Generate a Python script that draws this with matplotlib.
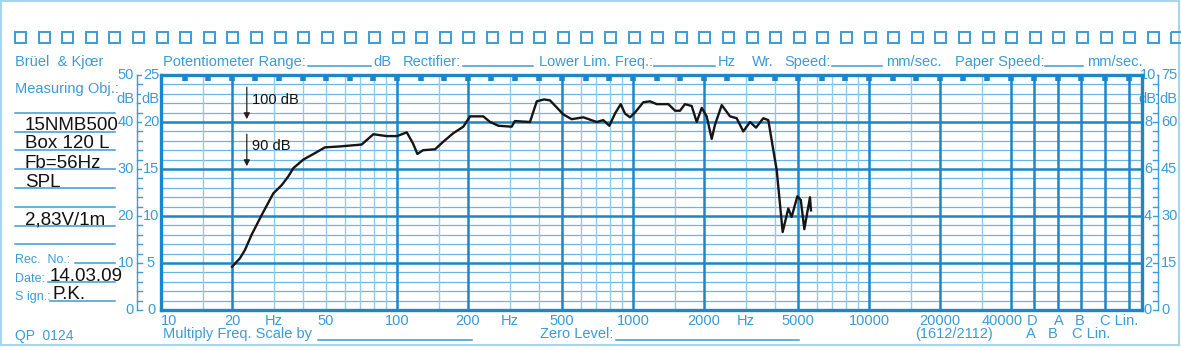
import numpy as np
import matplotlib
matplotlib.use("Agg")
import matplotlib.pyplot as plt
from matplotlib.patches import Rectangle
from matplotlib.transforms import offset_copy

plt.rcParams['font.family'] = ['Liberation Sans', 'DejaVu Sans']

# response curve (Hz / dB on the 0..25 dB scale)
freq = [20, 21.6, 22.7, 24.2, 26.7, 29.9, 32.5, 34.6, 36.4, 40.1, 45, 49.5, 57.3,
        70.8, 79.4, 90.4, 100, 110, 117, 122, 129, 145, 157, 173, 191, 204,
        232, 248, 269, 306, 316, 366, 391, 420, 445, 507, 550, 616, 702, 748, 794,
        839, 887, 925, 971, 1019, 1106, 1180, 1260, 1412, 1507, 1582, 1660,
        1773, 1862, 1955, 2052, 2155, 2225, 2377, 2577, 2750, 2933, 3133, 3320,
        3566, 3744, 3908, 4063, 4307, 4550, 4701, 4970, 5140, 5321, 5623, 5676]
level = [4.6, 5.5, 6.4, 8.0, 10.1, 12.4, 13.3, 14.2, 15.1, 16.0, 16.7, 17.3, 17.4,
         17.6, 18.7, 18.5, 18.5, 18.9, 17.7, 16.6, 17.0, 17.1, 17.9, 18.8, 19.5, 20.6,
         20.6, 20.0, 19.6, 19.5, 20.1, 20.0, 22.2, 22.4, 22.3, 20.8, 20.3, 20.5, 20.0, 20.2, 19.6,
         20.9, 21.9, 20.9, 20.5, 21.0, 22.1, 22.2, 21.9, 21.9, 21.2, 21.2, 21.9,
         21.7, 20.0, 21.5, 20.6, 18.2, 19.7, 21.8, 20.6, 20.4, 19.0, 20.0, 19.4,
         20.4, 20.2, 17.4, 14.9, 8.3, 10.8, 9.9, 12.1, 11.7, 8.6, 12.0, 10.6]

# paper grid
grid_major = [20, 100, 200, 500, 1000, 2000, 5000, 10000, 20000, 40000]
grid_minor = [15, 30, 40, 50, 60, 70, 80, 90, 150, 300, 400, 600, 700, 800, 900,
              1500, 3000, 4000, 6000, 7000, 8000, 9000, 15000, 30000]
label_freqs = [10, 20, 50, 100, 200, 500, 1000, 2000, 5000, 10000, 20000, 40000]
freq_labels = ['10', '20', '50', '100', '200', '500', '1000', '2000', '5000',
               '10000', '20000', '40000']
hz_at = [30, 300, 3000]

left_outer = ['0', '10', '20', '30', '40', '50']
left_inner = ['0', '5', '10', '15', '20', '25']
right_inner = ['0', '2', '4', '6', '8', '10']
right_outer = ['0', '15', '30', '45', '60', '75']

notes = ['15NMB500', 'Box 120 L', 'Fb=56Hz', 'SPL', '2,83V/1m']
date_txt = '14.03.09'
sign_txt = 'P.K.'

TXT = '#3b9bd4'
DARK = '#1b86c9'
MID = '#6db6e3'
LIGHT = '#93cbec'

W, H = 1181, 347
fig = plt.figure(figsize=(W / 100, H / 100), dpi=100)
bg = fig.add_axes([0, 0, 1, 1])
bg.set_xlim(0, W)
bg.set_ylim(H, 0)
bg.axis('off')

# page border and punched holes
bg.add_patch(Rectangle((1, 1), W - 3, H - 3, fill=False, ec='#a8d4ee', lw=1.5))
for k in range(50):
    bg.add_patch(Rectangle((15 + 23.6 * k, 31.5), 11, 11.5, fill=False, ec=TXT, lw=1.4))

# ---- main recording area
x0, x1, y0, y1 = 161, 1142, 75, 310
dec = 236.0
ax = fig.add_axes([x0 / W, 1 - y1 / H, (x1 - x0) / W, (y1 - y0) / H])
ax.set_xscale('log')
ax.set_xlim(10, 10 ** (1 + (x1 - x0) / dec))
ax.set_ylim(0, 25)
ax.patch.set_alpha(0)
ax.set_xticks([])
ax.set_yticks([])
ax.minorticks_off()
for s in ax.spines.values():
    s.set_color(DARK)
    s.set_linewidth(2.4)

for d in range(1, 25):
    if d % 5:
        ax.axhline(d, color=MID, lw=0.9, zorder=1)
    else:
        ax.axhline(d, color=DARK, lw=1.8, zorder=2)
for f in grid_minor:
    ax.axvline(f, color=LIGHT, lw=1.0, zorder=1)
for f in grid_major:
    ax.axvline(f, color=DARK, lw=1.8, zorder=2)
for j in range(5):
    ax.axvline(10 ** (4.7 + 0.1 * j), color=DARK, lw=1.8, zorder=2)
# sprocket marks along the top edge
ax.vlines([10 ** (1 + 0.1 * k) for k in range(1, 42)], 1 - 6 / 235, 1,
          transform=ax.get_xaxis_transform(), color=DARK, lw=4, zorder=3)

ax.plot(freq, level, color='#151515', lw=1.7, solid_joinstyle='round', zorder=5)

# level arrows
for top, bot, lab, ly in [(24.0, 20, '100 dB', 22.3), (19.0, 15, '90 dB', 17.4)]:
    ax.annotate('', xy=(23.1, bot), xytext=(23.1, top),
                arrowprops=dict(arrowstyle='-|>', color='#222', lw=0.9, mutation_scale=9),
                zorder=6)
    ax.text(24.4, ly, lab, fontsize=10.5, color='#111', va='center', ha='left', zorder=6)

# frequency labels
xt = ax.get_xaxis_transform()
lab_y = -(325 - y1) / (y1 - y0)
for f, s in zip(label_freqs, freq_labels):
    tr = offset_copy(xt, fig=fig, x=-9, units='dots') if f == 40000 else xt
    ax.text(f, lab_y, s, transform=tr, ha='left' if f == 10 else 'center',
            va='baseline', color=TXT, fontsize=10.5, clip_on=False)
for f in hz_at:
    ax.text(f, lab_y, 'Hz', transform=xt, ha='center', va='baseline',
            color=TXT, fontsize=10.5, clip_on=False)

def ypx(d):
    return y1 - d * (y1 - y0) / 25

# ---- side rulers
for d in range(26):
    yy = ypx(d)
    bg.plot([137, 142], [yy, yy], color=TXT, lw=1.0)
    bg.plot([1153, 1158], [yy, yy], color=TXT, lw=1.0)
bg.plot([137, 137], [ypx(0), ypx(25)], color=TXT, lw=1.0)
bg.plot([1158, 1158], [ypx(0), ypx(25)], color=TXT, lw=1.0)
for i in range(6):
    yy = ypx(5 * i)
    bg.text(134, yy, left_outer[i], ha='right', va='center', color=TXT, fontsize=10.5)
    bg.text(151, yy, left_inner[i], ha='center', va='center', color=TXT, fontsize=10.5,
            bbox=dict(fc='white', ec='none', pad=0.3))
    bg.text(1148, yy, right_inner[i], ha='center', va='center', color=TXT, fontsize=10.5,
            bbox=dict(fc='white', ec='none', pad=0.3))
    bg.text(1161, yy, right_outer[i], ha='left', va='center', color=TXT, fontsize=10.5,
            bbox=dict(fc='white', ec='none', pad=0.3))
for xx in [125, 150, 1147, 1168]:
    bg.text(xx, 99, 'dB', ha='center', va='center', color=TXT, fontsize=10.5,
            bbox=dict(fc='white', ec='none', pad=0.2))

# ---- header
hdr = 66
def blank(xa, xb, yy):
    bg.plot([xa, xb], [yy, yy], color=TXT, lw=1.1)

bg.text(15, hdr, 'Brüel  & Kjœr', color=TXT, fontsize=10.5, va='baseline')
bg.text(163, hdr, 'Potentiometer Range:', color=TXT, fontsize=10.5, va='baseline')
blank(308, 371, hdr)
bg.text(373, hdr, 'dB', color=TXT, fontsize=10.5, va='baseline')
bg.text(403, hdr, 'Rectifier:', color=TXT, fontsize=10.5, va='baseline')
blank(463, 533, hdr)
bg.text(539, hdr, 'Lower Lim. Freq.:', color=TXT, fontsize=10.5, va='baseline')
blank(654, 715, hdr)
bg.text(718, hdr, 'Hz', color=TXT, fontsize=10.5, va='baseline')
bg.text(752, hdr, 'Wr.', color=TXT, fontsize=10.5, va='baseline')
bg.text(784, hdr, 'Speed:', color=TXT, fontsize=10.5, va='baseline')
blank(832, 882, hdr)
bg.text(886, hdr, 'mm/sec.', color=TXT, fontsize=10.5, va='baseline')
bg.text(955, hdr, 'Paper Speed:', color=TXT, fontsize=10.5, va='baseline')
blank(1045, 1083, hdr)
bg.text(1087, hdr, 'mm/sec.', color=TXT, fontsize=10.5, va='baseline')

# ---- left column
bg.text(15, 93, 'Measuring Obj.:', color=TXT, fontsize=10.5, va='baseline')
for k in range(11):
    yy = 112.7 + 18.8 * k
    xa = {8: 75, 9: 48, 10: 50}.get(k, 15)
    blank(xa, 115, yy)
for s, yb in zip(notes, [130, 148, 168, 187, 224]):
    bg.text(25, yb, s, color='#111', fontsize=13.5, va='baseline')
bg.text(15, 263, 'Rec.  No.:', color=TXT, fontsize=9, va='baseline')
bg.text(15, 282, 'Date:', color=TXT, fontsize=9, va='baseline')
bg.text(15, 300, 'S ign.:', color=TXT, fontsize=9, va='baseline')
bg.text(50, 281, date_txt, color='#111', fontsize=13.5, va='baseline')
bg.text(53, 299, sign_txt, color='#111', fontsize=13.5, va='baseline')
bg.text(15, 340, 'QP  0124', color=TXT, fontsize=10, va='baseline')

# ---- footer
bg.text(163, 338, 'Multiply Freq. Scale by', color=TXT, fontsize=10.5, va='baseline')
blank(318, 472, 340)
bg.text(540, 338, 'Zero Level:', color=TXT, fontsize=10.5, va='baseline')
blank(616, 799, 340)
bg.text(915, 338, '(1612/2112)', color=TXT, fontsize=10.5, va='baseline')
for s, xx in [('D', 1032), ('A', 1059), ('B', 1080)]:
    bg.text(xx, 325, s, color=TXT, fontsize=10.5, va='baseline', ha='center')
bg.text(1100, 325, 'C Lin.', color=TXT, fontsize=10.5, va='baseline')
for s, xx in [('A', 1031), ('B', 1053)]:
    bg.text(xx, 338, s, color=TXT, fontsize=10.5, va='baseline', ha='center')
bg.text(1072, 338, 'C Lin.', color=TXT, fontsize=10.5, va='baseline')

fig.savefig('out.png', dpi=100)
